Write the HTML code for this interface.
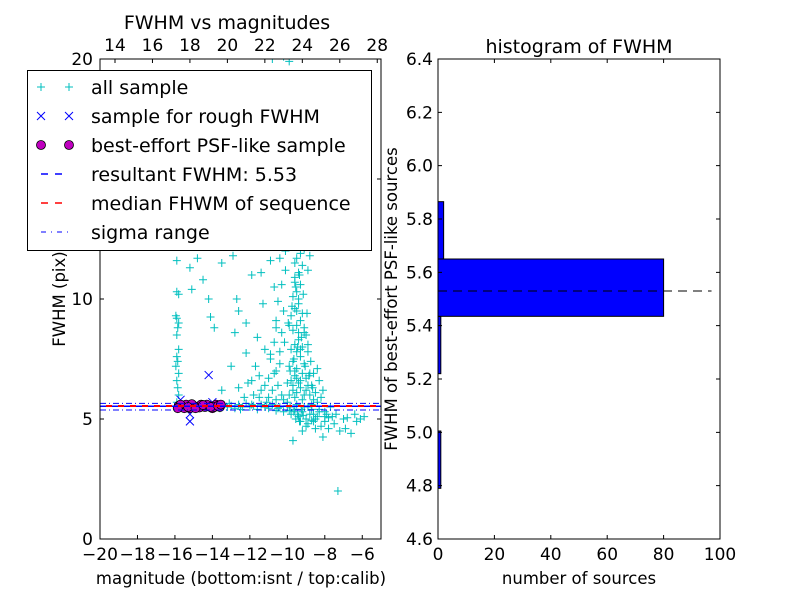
<!DOCTYPE html>
<html><head><meta charset="utf-8"><style>
body{margin:0;background:#fff;}
svg{display:block;font-family:"DejaVu Sans","Liberation Sans",sans-serif;}
</style></head><body>
<svg id="fig" width="800" height="600" viewBox="0 0 800 600" xmlns="http://www.w3.org/2000/svg"></svg>
<script>
// ---- data ----
const allX = [-15.9,-15.8,-15.85,-15.9,-15.8,-15.95,-15.85,-15.9,-15.8,-15.9,-15.85,-15.8,-15.95,-15.9,-15.9,-15.8,-15.9,-15.7,-15.85,-15.8,
-13.4,-13.2,-13.0,-12.8,-12.6,-12.4,-12.2,-12.0,-11.8,-11.6,-11.4,-11.2,-11.0,-10.8,-10.6,-10.4,-10.2,-10.0,-9.8,-9.6,-9.4,-9.2,-9.0,-8.8,-8.6,-8.4,-8.2,-8.0,-7.8,-7.5,-7.2,-6.9,-6.6,-6.3,-6.1,-6.8,-9.7,-8.1,-7.3,-13.6,-13.1,-12.5,-11.9,-11.1,-10.5,-9.9,-9.5,-9.1,-8.7,-8.3,-7.9,-7.6,-8.9,-9.3,-8.5,-7.0,-6.4,-5.9,
-10.3,-10.5,-10.8,-11.0,-10.6,-10.9,-10.4,-10.7,-10.3,-10.6,-10.2,-10.5,-10.3,-10.1,-10.4,
-9.9,-9.7,-9.5,-9.3,-9.1,-8.9,-9.8,-9.6,-9.4,-9.2,-9.0,-8.8,-9.9,-9.7,-9.5,-9.3,-9.1,-8.9,-9.8,-9.6,-9.4,-9.2,-9.0,-9.7,-9.5,-9.3,-9.1,-9.8,-9.6,-9.4,-9.2,-9.7,-9.5,-9.3,-9.6,-9.4,-9.2,-9.5,-9.3,-9.6,-9.4,-9.5,-9.4,-9.5,-9.6,-9.3,-9.0,-8.8,-8.7,-8.6,-8.5,-8.4,-8.7,-9.2,-9.6,-10.0,-10.2,-10.6,-11.0,-11.4,-11.8,-12.3,
-8.3,-8.6,-8.9,-8.0,-7.7,-7.4,-10.8,-10.2,-9.9,
-15.2,-15.1,-14.5,-14.2,-14.1,-13.9,-12.7,-12.6,-12.8,-12.2,-12.2,-13.0,-12.1,-11.7,-11.4,-11.3,-10.7,-11.6,-11.2,-11.5,-13.5,-14.8,-12.9,-11.9,-10.9,-13.5,-12.6,-11.9,
-9.9,-9.5,-9.1,-8.8,-9.7,-9.3,-9.0,-9.8,-9.4,-8.9,-10.1,-9.6,
-10.0,-9.85,-9.65,-9.45,-9.25,-9.05,-8.85,-8.65,-9.95,-9.75,-9.55,-9.35,-9.15,-8.95,-8.75,-10.15,-9.9,-9.7,-9.5,-9.3,-9.1,-8.9,-8.6,-8.3,-8.1,-8.4,-8.2,-10.7,-10.9,-11.2,-11.5,-10.4,-10.6,-9.85,-9.65,-9.45,-9.25,-9.55,-9.35,-9.15,-8.7,-8.5,-8.0,-7.8,-9.0,-9.2];
const allY = [5.7,6.0,6.3,6.6,6.9,7.2,7.4,7.6,7.9,8.5,8.8,9.0,9.3,9.2,10.3,10.2,11.6,12.3,12.8,13.2,
5.6,5.5,5.55,5.45,5.6,5.5,5.65,5.5,5.55,5.4,5.6,5.5,5.45,5.6,5.35,5.5,5.3,5.55,5.2,5.4,5.1,5.3,5.0,5.2,4.9,5.1,4.7,4.9,4.6,4.8,4.5,4.6,4.4,4.9,5.0,5.05,4.1,4.25,2.0,5.45,5.65,5.4,5.6,5.7,5.45,5.35,5.6,5.5,5.4,5.3,5.2,5.1,4.8,4.9,4.6,5.0,5.2,5.1,
6.0,6.4,6.2,6.7,7.0,7.5,7.8,8.2,8.6,9.1,9.5,9.9,10.6,11.2,11.7,
6.0,6.2,6.1,6.3,6.0,6.4,6.6,6.8,6.5,6.9,6.7,6.9,7.2,7.4,7.1,7.6,7.3,7.8,7.9,8.1,8.3,8.0,8.5,8.7,8.9,9.1,8.8,9.3,9.6,9.8,9.4,10.1,10.3,10.6,10.9,11.1,11.4,11.7,11.9,11.5,10.0,9.5,8.6,7.8,7.0,6.6,6.2,6.0,6.4,5.8,6.1,5.7,5.6,5.8,5.9,5.7,5.8,5.8,5.9,6.2,6.0,5.9,
5.4,5.2,5.5,5.1,5.5,5.2,20.0,20.1,19.9,
11.3,10.4,10.8,10.0,9.25,8.8,10.0,9.5,8.6,9.0,7.75,7.2,6.5,7.2,11.1,9.8,10.5,8.4,7.9,6.8,11.5,11.7,11.8,11.0,11.6,6.2,6.3,6.6,
12.2,12.5,12.1,11.8,12.9,13.4,12.6,13.0,12.4,11.2,12.0,10.7,
6.5,7.0,7.5,8.0,8.4,7.2,6.8,6.3,9.0,9.7,10.5,11.0,10.2,9.4,7.4,8.2,8.9,6.4,6.7,7.9,8.6,8.1,6.9,6.6,6.2,7.1,5.9,6.9,7.7,6.4,5.9,7.3,8.8,5.5,5.3,5.2,5.4,5.0,4.9,5.15,4.95,5.0,5.3,5.05,4.7,4.5];
const roughX = [-14.2,-15.2,-15.2,-15.5,-14.9,-14.0,-15.7,-15.0];
const roughY = [6.83,4.9,5.2,5.5,5.6,5.7,5.8,5.45];
const psfX = [-15.8,-15.6,-15.4,-15.2,-15.0,-14.8,-14.6,-14.4,-14.2,-14.0,-13.8,-13.6,-15.5,-15.1,-14.7,-14.3,-13.9,-15.7,-15.3,-14.9,-14.5,-14.1,-13.7,-15.85,-13.55];
const psfY = [5.55,5.5,5.6,5.45,5.55,5.5,5.6,5.5,5.55,5.45,5.6,5.5,5.45,5.62,5.48,5.6,5.5,5.6,5.5,5.45,5.58,5.5,5.55,5.45,5.6];
const resultantFWHM = 5.53;
const medianFWHM = 5.54;
const sigmaLow = 5.375, sigmaHigh = 5.65;
const xTicks = [-20,-18,-16,-14,-12,-10,-8,-6];
const yTicks = [0,5,10,15,20];
const topTicks = [14,16,18,20,22,24,26,28];
const binEdges = [4.79,5.005,5.22,5.435,5.65,5.865];
const binCounts = [1,0,1,80,2];
const histYTicks = [4.6,4.8,5.0,5.2,5.4,5.6,5.8,6.0,6.2,6.4];
const histXTicks = [0,20,40,60,80,100];

const NS="http://www.w3.org/2000/svg";
const svg=document.getElementById('fig');
function el(tag,attrs,parent){const e=document.createElementNS(NS,tag);for(const k in attrs)e.setAttribute(k,attrs[k]);(parent||svg).appendChild(e);return e;}
function txt(s,x,y,size,anchor,parent,extra){const t=el('text',Object.assign({x:x,y:y,'font-size':size,'text-anchor':anchor||'middle',fill:'#000'},extra||{}),parent);t.textContent=s;return t;}

const L={x0:100,x1:381,y0:59,y1:539,xmin:-20,xmax:-5,ymin:0,ymax:20};
const sx=v=>L.x0+(v-L.xmin)/(L.xmax-L.xmin)*(L.x1-L.x0);
const sy=v=>L.y1-(v-L.ymin)/(L.ymax-L.ymin)*(L.y1-L.y0);
const calibOffset=33.2;
const stx=v=>sx(v-calibOffset);

const gL=el('g',{});


const clipD=el('defs',{});
const cp=el('clipPath',{id:'cl'},clipD);el('rect',{x:L.x0,y:L.y0,width:L.x1-L.x0,height:L.y1-L.y0},cp);
const plotArea=el('g',{'clip-path':'url(#cl)'},gL);

const gAll=el('g',{stroke:'#00bfbf','stroke-width':1,fill:'none'},plotArea);


for(let i=0;i<allX.length;i++){const x=sx(allX[i]),y=sy(allY[i]);
 const p=el('path',{d:`M${x-4},${y}H${x+4}M${x},${y-4}V${y+4}`},gAll);
 
 }
const gR=el('g',{stroke:'#0000ff','stroke-width':1,fill:'none'},plotArea);


for(let i=0;i<roughX.length;i++){const x=sx(roughX[i]),y=sy(roughY[i]);
 const p=el('path',{d:`M${x-4},${y-4}L${x+4},${y+4}M${x-4},${y+4}L${x+4},${y-4}`},gR);
 
 }
const gP=el('g',{stroke:'#000','stroke-width':0.8,fill:'#bf00bf'},plotArea);


for(let i=0;i<psfX.length;i++){const c=el('circle',{cx:sx(psfX[i]),cy:sy(psfY[i]),r:4.5},gP);
 
 }
const l1=el('line',{x1:L.x0,x2:L.x1,y1:sy(resultantFWHM),y2:sy(resultantFWHM),stroke:'#0000ff','stroke-width':1.5,'stroke-dasharray':'6,6'},plotArea);

const l2=el('line',{x1:L.x0,x2:L.x1,y1:sy(medianFWHM),y2:sy(medianFWHM),stroke:'#ff0000','stroke-width':2,'stroke-dasharray':'6,6','stroke-dashoffset':6},plotArea);

[sigmaLow,sigmaHigh].forEach(v=>{const l=el('line',{x1:L.x0,x2:L.x1,y1:sy(v),y2:sy(v),stroke:'#0000ff','stroke-width':1,'stroke-dasharray':'6,3,1,3'},plotArea);
 });

el('rect',{x:L.x0,y:L.y0,width:L.x1-L.x0,height:L.y1-L.y0,fill:'none',stroke:'#000','stroke-width':1},gL);
xTicks.forEach(v=>{const x=sx(v);el('path',{d:`M${x},${L.y1}v-4`,stroke:'#000'},gL);
 const t=txt('\u2212'+Math.abs(v),x,560,17,'middle',gL);});
topTicks.forEach(v=>{const x=stx(v);el('path',{d:`M${x},${L.y0}v4`,stroke:'#000'},gL);
 const t=txt(String(v),x,51,17,'middle',gL);});
yTicks.forEach(v=>{const y=sy(v);el('path',{d:`M${L.x0},${y}h4M${L.x1},${y}h-4`,stroke:'#000'},gL);
 const t=txt(String(v),93,y+6,17,'end',gL);});
const t1=txt('FWHM vs magnitudes',227,29,19,'middle',gL);
const t2=txt('magnitude (bottom:isnt / top:calib)',241,584,16.5,'middle',gL);
const t3=txt('FWHM (pix)',0,0,16.5,'middle',gL,{transform:'translate(65,299) rotate(-90)'});

const lg=el('g',{},gL);


el('rect',{x:27.5,y:70.5,width:344,height:180,fill:'#fff',stroke:'#000','stroke-width':1},lg);
const labels=['all sample','sample for rough FWHM','best-effort PSF-like sample','resultant FWHM: 5.53','median FHWM of sequence','sigma range'];
labels.forEach((s,i)=>{const y=87+i*29;
 const t=txt(s,91,y+7,19,'start',lg);
 if(i===0)[41,69].forEach(x=>el('path',{d:`M${x-4},${y}H${x+4}M${x},${y-4}V${y+4}`,stroke:'#00bfbf'},lg));
 if(i===1)[41,69].forEach(x=>el('path',{d:`M${x-4},${y-4}L${x+4},${y+4}M${x-4},${y+4}L${x+4},${y-4}`,stroke:'#0000ff'},lg));
 if(i===2)[41,69].forEach(x=>el('circle',{cx:x,cy:y,r:4.5,fill:'#bf00bf',stroke:'#000','stroke-width':0.8},lg));
 if(i===3)el('line',{x1:41,x2:69,y1:y,y2:y,stroke:'#0000ff','stroke-width':1.5,'stroke-dasharray':'7,7'},lg);
 if(i===4)el('line',{x1:41,x2:69,y1:y,y2:y,stroke:'#ff0000','stroke-width':1.5,'stroke-dasharray':'7,7'},lg);
 if(i===5)el('line',{x1:41,x2:69,y1:y,y2:y,stroke:'#0000ff','stroke-width':1,'stroke-dasharray':'5,5,1,5'},lg);
});

const H={x0:438,x1:720,y0:59,y1:539,xmin:0,xmax:100,ymin:4.6,ymax:6.4};
const hx=v=>H.x0+(v-H.xmin)/(H.xmax-H.xmin)*(H.x1-H.x0);
const hy=v=>H.y1-(v-H.ymin)/(H.ymax-H.ymin)*(H.y1-H.y0);
const gH=el('g',{});


for(let i=0;i<binCounts.length;i++){if(binCounts[i]<=0)continue;
 const r=el('rect',{x:hx(0),y:hy(binEdges[i+1]),width:hx(binCounts[i])-hx(0),height:hy(binEdges[i])-hy(binEdges[i+1]),fill:'#0000ff',stroke:'#000','stroke-width':1},gH);
 }
const hl=el('line',{x1:hx(0),x2:hx(97),y1:hy(resultantFWHM),y2:hy(resultantFWHM),stroke:'#000','stroke-width':1,'stroke-dasharray':'9,6'},gH);

el('rect',{x:H.x0,y:H.y0,width:H.x1-H.x0,height:H.y1-H.y0,fill:'none',stroke:'#000'},gH);
histYTicks.forEach(v=>{const y=hy(v);el('path',{d:`M${H.x0},${y}h4M${H.x1},${y}h-4`,stroke:'#000'},gH);
 const t=txt(v.toFixed(1),433,y+6,17,'end',gH);});
histXTicks.forEach(v=>{const x=hx(v);el('path',{d:`M${x},${H.y1}v-4M${x},${H.y0}v4`,stroke:'#000'},gH);
 const t=txt(String(v),x,560,17,'middle',gH);});
const h1=txt('histogram of FWHM',579,53,19,'middle',gH);
const h2=txt('number of sources',579,584,16.5,'middle',gH);
const h3=txt('FWHM of best-effort PSF-like sources',0,0,16.5,'middle',gH,{transform:'translate(397,299) rotate(-90)'});
</script>
</body></html>
